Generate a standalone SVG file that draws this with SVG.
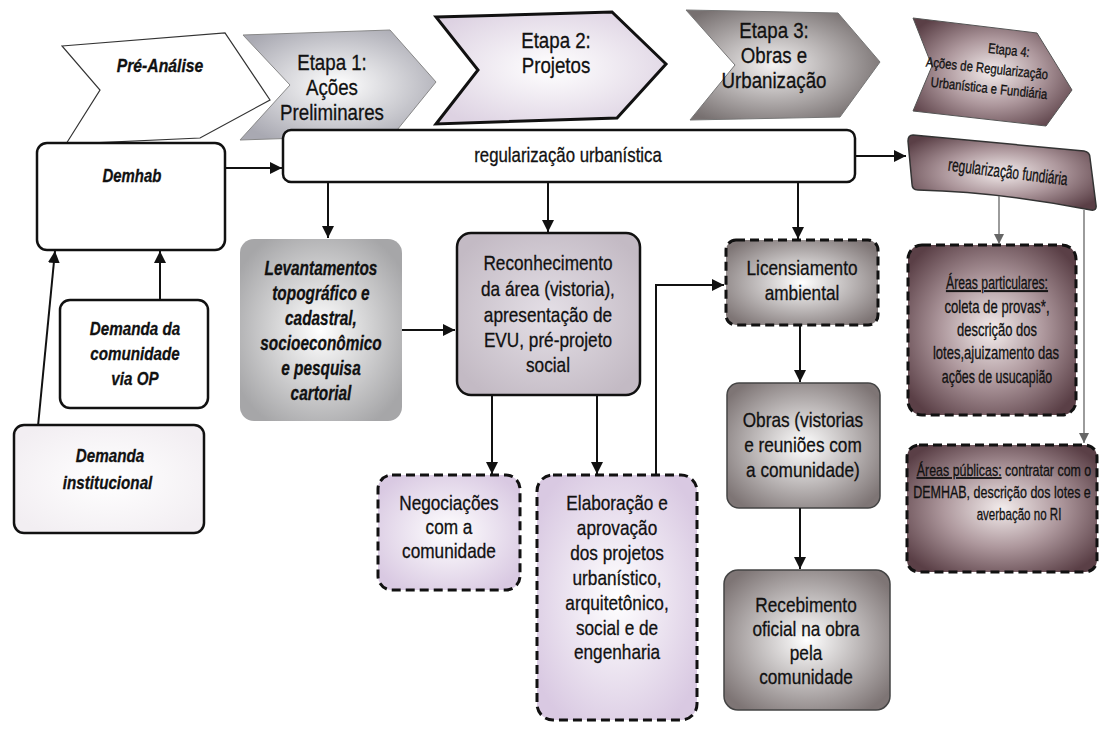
<svg xmlns="http://www.w3.org/2000/svg" width="1099" height="731" viewBox="0 0 1099 731">
<defs>
<style>
.t{font-family:"Liberation Sans",Arial,sans-serif;font-size:21px;fill:#111;stroke:#111;stroke-width:0.3;text-anchor:middle}
.b{font-weight:bold}
.i{font-style:italic;font-weight:bold}
.s{font-size:18px}
.box{stroke:#111;stroke-width:2.5}
.dash{stroke:#111;stroke-width:3;stroke-dasharray:9 5}
.ln{stroke:#111;stroke-width:2;fill:none}
.lg{stroke:#666;stroke-width:1.3;fill:none}
</style>
<radialGradient id="gE1" cx="50%" cy="50%" r="60%"><stop offset="0" stop-color="#ffffff"/><stop offset="1" stop-color="#a9a9b2"/></radialGradient>
<radialGradient id="gE2" cx="50%" cy="50%" r="60%"><stop offset="0" stop-color="#ffffff"/><stop offset="1" stop-color="#ddd2e2"/></radialGradient>
<radialGradient id="gE3" cx="45%" cy="50%" r="60%"><stop offset="0" stop-color="#f4f2f2"/><stop offset="1" stop-color="#777070"/></radialGradient>
<radialGradient id="gD" cx="50%" cy="50%" r="62%"><stop offset="0" stop-color="#f3ecec"/><stop offset="0.5" stop-color="#ad979c"/><stop offset="1" stop-color="#5a3f46"/></radialGradient>
<radialGradient id="gLev" cx="50%" cy="50%" r="60%"><stop offset="0" stop-color="#ffffff"/><stop offset="1" stop-color="#a6a6a8"/></radialGradient>
<radialGradient id="gRec" cx="50%" cy="50%" r="60%"><stop offset="0" stop-color="#e4dfe6"/><stop offset="1" stop-color="#c3bac4"/></radialGradient>
<radialGradient id="gObr" cx="50%" cy="50%" r="62%"><stop offset="0" stop-color="#ffffff"/><stop offset="1" stop-color="#7e7575"/></radialGradient>
<radialGradient id="gLav" cx="50%" cy="50%" r="60%"><stop offset="0" stop-color="#ffffff"/><stop offset="1" stop-color="#d9c9e2"/></radialGradient>
<radialGradient id="gW" cx="50%" cy="50%" r="60%"><stop offset="0" stop-color="#ffffff"/><stop offset="1" stop-color="#f2eef2"/></radialGradient>
<marker id="ar" viewBox="0 0 10 10" refX="10" refY="5" markerWidth="6" markerHeight="6" orient="auto" markerUnits="strokeWidth"><path d="M0,0 L10,5 L0,10 z" fill="#111"/></marker>
<marker id="arG" viewBox="0 0 10 10" refX="10" refY="5" markerWidth="8" markerHeight="8" orient="auto" markerUnits="strokeWidth"><path d="M0,0 L10,5 L0,10 z" fill="#666"/></marker>
</defs>
<rect width="1099" height="731" fill="#ffffff"/>

<g id="pre-analise">
<polygon points="62,46 225,33 270,100 200,138 66,144 100,90" fill="#ffffff" stroke="#333" stroke-width="1.2"/>
<g transform="matrix(0.83,0,0,1,27.2,0)"><text class="t i" x="160" y="72" style="font-size:19px">Pré-Análise</text></g>
</g>
<g id="etapa1">
<polygon points="243,35 390,30 436,82 393,135 240,140 290,85" fill="url(#gE1)" stroke="#888" stroke-width="1"/>
<g transform="matrix(0.85,0,0,1,49.8,0)">
<text class="t" x="332" y="70" style="font-size:22px">Etapa 1:</text>
<text class="t" x="332" y="95" style="font-size:22px">Ações</text>
<text class="t" x="332" y="120" style="font-size:22px">Preliminares</text>
</g>
</g>
<g id="etapa2">
<polygon points="436,17 612,12 666,64 617,118 436,124 478,70" fill="url(#gE2)" stroke="#111" stroke-width="3"/>
<g transform="matrix(0.85,0,0,1,83.4,0)">
<text class="t" x="556" y="48" style="font-size:22px">Etapa 2:</text>
<text class="t" x="556" y="73" style="font-size:22px">Projetos</text>
</g>
</g>
<g id="etapa3">
<polygon points="686,10 838,13 880,62 840,117 690,120 735,65" fill="url(#gE3)" stroke="#777" stroke-width="1"/>
<g transform="matrix(0.85,0,0,1,116.1,0)">
<text class="t" x="774" y="38" style="font-size:22px">Etapa 3:</text>
<text class="t" x="774" y="63" style="font-size:22px">Obras e</text>
<text class="t" x="774" y="88" style="font-size:22px">Urbanização</text>
</g>
</g>
<g id="etapa4">
<polygon points="913,18 1037,33 1072,90 1046,126 913,111 932,66" fill="url(#gD)" stroke="#555" stroke-width="1"/>
<text class="t" x="1009" y="55" style="font-size:14px" transform="rotate(6 1009 50) matrix(0.8,0,0,1,201.8,0)">Etapa 4:</text>
<text class="t" x="987" y="73" style="font-size:14px" transform="rotate(6 987 68) matrix(0.81,0,0,1,187.53,0)">Ações de Regularização</text>
<text class="t" x="989" y="93" style="font-size:14px" transform="rotate(6 989 88) matrix(0.81,0,0,1,187.91,0)">Urbanística e Fundiária</text>
</g>

<g id="demhab">
<rect x="37" y="143" width="188" height="107" rx="10" fill="#ffffff" class="box"/>
<g transform="matrix(0.83,0,0,1,22.4,0)"><text class="t i" x="132" y="182" style="font-size:18px">Demhab</text></g>
</g>
<g id="reg-urbanistica">
<rect x="283" y="130" width="572" height="52" rx="8" fill="#ffffff" class="box"/>
<g transform="matrix(0.84,0,0,1,90.9,0)"><text class="t" x="568" y="162" style="font-size:20px">regularização urbanística</text></g>
</g>
<g id="reg-fundiaria">
<path d="M913,135 L1084,151 Q1090,152 1090,158 L1096,205 Q1097,211 1091,210 Q1000,192 918,190 Q912,190 912,184 L908,141 Q908,135 913,135 z" fill="url(#gD)" stroke="#333" stroke-width="1.5"/>
<text class="t" x="1008" y="178" style="font-size:18px" transform="rotate(7 1008 172) matrix(0.66,0,0,1,342.72,0)">regularização fundiária</text>
</g>
<g id="demanda-comunidade">
<rect x="60" y="300" width="148" height="108" rx="10" fill="#ffffff" class="box"/>
<g transform="matrix(0.8,0,0,1,27,0)">
<text class="t i" x="135" y="335" style="font-size:19px">Demanda da</text>
<text class="t i" x="135" y="360" style="font-size:19px">comunidade</text>
<text class="t i" x="135" y="385" style="font-size:19px">via OP</text>
</g>
</g>
<g id="demanda-institucional">
<rect x="14" y="425" width="190" height="108" rx="10" fill="url(#gW)" class="box"/>
<g transform="matrix(0.8,0,0,1,22,0)">
<text class="t i" x="110" y="462" style="font-size:19px">Demanda</text>
<text class="t i" x="107" y="489" style="font-size:19px">institucional</text>
</g>
</g>
<g id="levantamentos">
<rect x="240" y="239" width="162" height="182" rx="14" fill="url(#gLev)"/>
<g transform="matrix(0.77,0,0,1,73.8,0)">
<text class="t i" x="321" y="275" style="font-size:20px">Levantamentos</text>
<text class="t i" x="321" y="300" style="font-size:20px">topográfico e</text>
<text class="t i" x="321" y="325" style="font-size:20px">cadastral,</text>
<text class="t i" x="321" y="350" style="font-size:20px">socioeconômico</text>
<text class="t i" x="321" y="375" style="font-size:20px">e pesquisa</text>
<text class="t i" x="321" y="400" style="font-size:20px">cartorial</text>
</g>
</g>
<g id="reconhecimento">
<rect x="457" y="233" width="183" height="162" rx="14" fill="url(#gRec)" class="box"/>
<g transform="matrix(0.82,0,0,1,98.6,0)">
<text class="t" x="548" y="270">Reconhecimento</text>
<text class="t" x="548" y="296">da área (vistoria),</text>
<text class="t" x="548" y="322">apresentação de</text>
<text class="t" x="548" y="347">EVU, pré-projeto</text>
<text class="t" x="548" y="372">social</text>
</g>
</g>
<g id="licensiamento">
<rect x="726" y="240" width="152" height="85" rx="10" fill="url(#gObr)" class="dash"/>
<g transform="matrix(0.82,0,0,1,144.4,0)">
<text class="t" x="802" y="275">Licensiamento</text>
<text class="t" x="802" y="300">ambiental</text>
</g>
</g>
<g id="obras">
<rect x="727" y="383" width="153" height="125" rx="12" fill="url(#gObr)" stroke="#444" stroke-width="1.5"/>
<g transform="matrix(0.82,0,0,1,144.5,0)">
<text class="t" x="803" y="427">Obras (vistorias</text>
<text class="t" x="803" y="452">e reuniões com</text>
<text class="t" x="803" y="477">a comunidade)</text>
</g>
</g>
<g id="recebimento">
<rect x="724" y="570" width="166" height="140" rx="14" fill="url(#gObr)" stroke="#444" stroke-width="1.5"/>
<g transform="matrix(0.82,0,0,1,145.1,0)">
<text class="t" x="806" y="612">Recebimento</text>
<text class="t" x="806" y="636">oficial na obra</text>
<text class="t" x="806" y="660">pela</text>
<text class="t" x="806" y="684">comunidade</text>
</g>
</g>
<g id="negociacoes">
<rect x="378" y="475" width="142" height="115" rx="14" fill="url(#gLav)" class="dash"/>
<g transform="matrix(0.82,0,0,1,80.8,0)">
<text class="t" x="449" y="510">Negociações</text>
<text class="t" x="449" y="534">com a</text>
<text class="t" x="449" y="558">comunidade</text>
</g>
</g>
<g id="elaboracao">
<rect x="537" y="475" width="160" height="245" rx="16" fill="url(#gLav)" class="dash"/>
<g transform="matrix(0.82,0,0,1,111.1,0)">
<text class="t" x="617" y="510">Elaboração e</text>
<text class="t" x="617" y="535">aprovação</text>
<text class="t" x="617" y="560">dos projetos</text>
<text class="t" x="617" y="585">urbanístico,</text>
<text class="t" x="617" y="610">arquitetônico,</text>
<text class="t" x="617" y="635">social e de</text>
<text class="t" x="617" y="659">engenharia</text>
</g>
</g>
<g id="areas-particulares">
<rect x="908" y="245" width="168" height="170" rx="14" fill="url(#gD)" class="dash"/>
<text class="t s" x="997" y="289" transform="matrix(0.68,0,0,1,319.04,0)" text-decoration="underline">Áreas particulares:</text>
<text class="t s" x="997" y="313" transform="matrix(0.73,0,0,1,269.19,0)">coleta de provas*,</text>
<text class="t s" x="997" y="336" transform="matrix(0.72,0,0,1,279.16,0)">descrição dos</text>
<text class="t s" x="996" y="359" transform="matrix(0.725,0,0,1,273.9,0)">lotes,ajuizamento das</text>
<text class="t s" x="997" y="383" transform="matrix(0.69,0,0,1,309.07,0)">ações de usucapião</text>
</g>
<g id="areas-publicas">
<rect x="907" y="445" width="190" height="127" rx="12" fill="url(#gD)" class="dash"/>
<text class="t s" x="1004" y="476" style="font-size:17px" transform="matrix(0.73,0,0,1,271.08,0)"><tspan text-decoration="underline">Áreas públicas:</tspan> contratar com o</text>
<text class="t s" x="1002" y="498" style="font-size:17px" transform="matrix(0.735,0,0,1,265.53,0)">DEMHAB, descrição dos lotes e</text>
<text class="t s" x="1019" y="520" style="font-size:17px" transform="matrix(0.68,0,0,1,326.08,0)">averbação no RI</text>
</g>

<g id="connectors">
<line class="ln" x1="225" y1="168" x2="282" y2="168" marker-end="url(#ar)"/>
<line class="ln" x1="855" y1="156" x2="906" y2="156" marker-end="url(#ar)"/>
<line class="ln" x1="328" y1="182" x2="328" y2="238" marker-end="url(#ar)"/>
<line class="ln" x1="548" y1="182" x2="548" y2="232" marker-end="url(#ar)"/>
<line class="ln" x1="798" y1="182" x2="798" y2="239" marker-end="url(#ar)"/>
<line class="ln" x1="402" y1="330" x2="455" y2="330" marker-end="url(#ar)"/>
<line class="ln" x1="492" y1="395" x2="492" y2="474" marker-end="url(#ar)"/>
<line class="ln" x1="597" y1="395" x2="597" y2="474" marker-end="url(#ar)"/>
<polyline class="ln" points="656,475 656,285 724,285" marker-end="url(#ar)"/>
<line class="ln" x1="800" y1="325" x2="800" y2="382" marker-end="url(#ar)"/>
<line class="ln" x1="800" y1="508" x2="800" y2="569" marker-end="url(#ar)"/>
<line class="ln" x1="160" y1="300" x2="160" y2="251" marker-end="url(#ar)"/>
<line class="ln" x1="38" y1="426" x2="55" y2="251" marker-end="url(#ar)"/>
<line class="lg" x1="999" y1="196" x2="999" y2="244" marker-end="url(#arG)"/>
<line class="lg" x1="1084" y1="210" x2="1084" y2="443" marker-end="url(#arG)"/>
</g>
</svg>
